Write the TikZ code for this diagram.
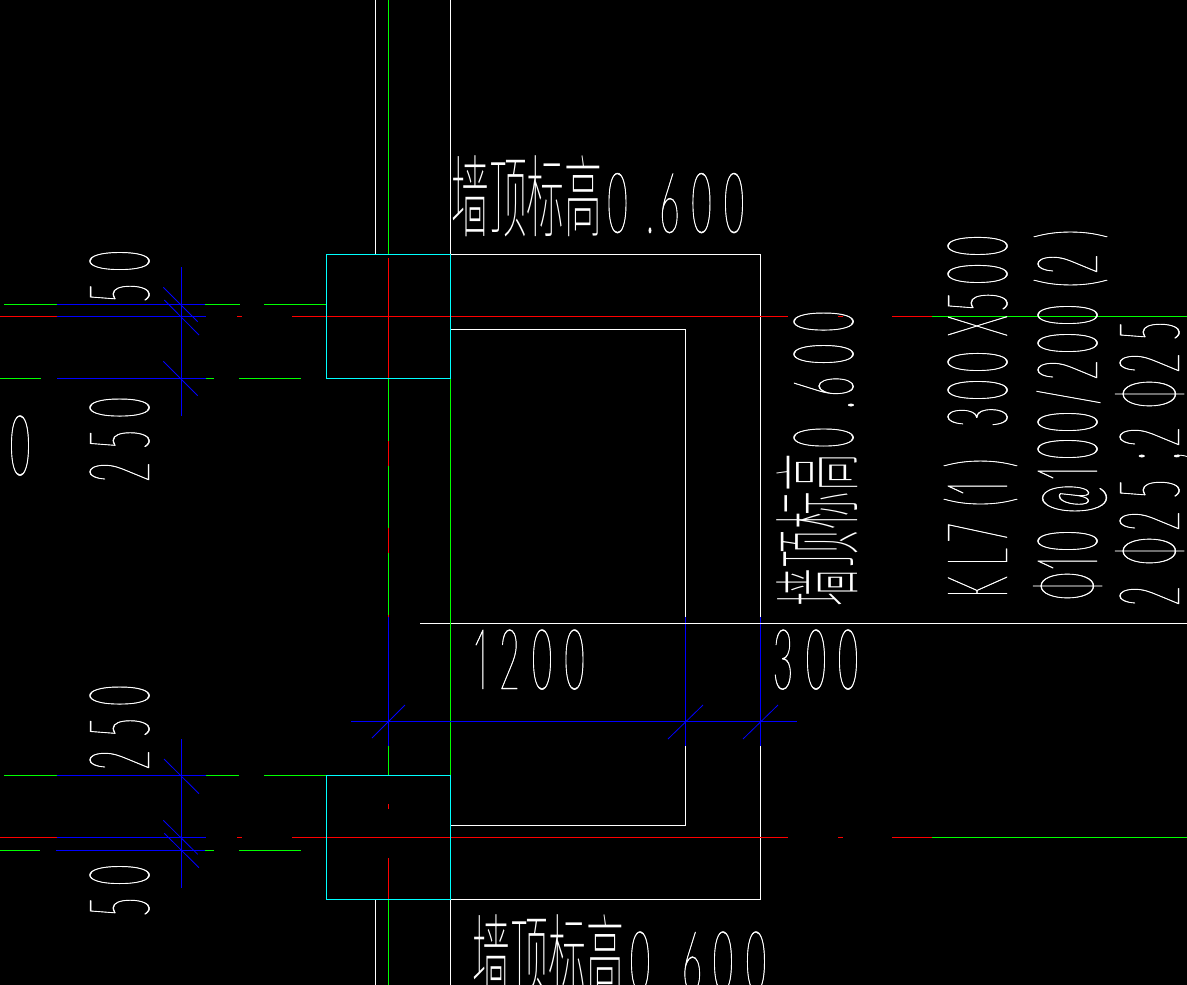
\documentclass[tikz,border=0pt]{standalone}
\usepackage{fontspec}
\newfontfamily\latofont[FakeStretch=0.42,FakeBold=0.55,Numbers=Proportional]{Lato Hairline}
\newfontfamily\cjkfont[FakeStretch=0.42]{Noto Sans CJK SC Thin}
\definecolor{cadcyan}{RGB}{0,255,255}
\definecolor{cadgreen}{RGB}{0,255,0}
\definecolor{cadred}{RGB}{255,0,0}
\definecolor{cadblue}{RGB}{0,0,255}
\tikzset{
  wht/.style={draw=white,line width=1pt},
  cya/.style={draw=cadcyan,line width=1pt},
  grn/.style={draw=cadgreen,line width=1pt},
  redl/.style={draw=cadred,line width=1pt},
  blu/.style={draw=cadblue,line width=1pt},
  thinl/.style={line width=0.8pt},
  cadh/.style={inner sep=0pt,outer sep=0pt,anchor=base west,text=white},
  cadv/.style={cadh,rotate=90}
}
\newcommand\G[2]{\rlap{\kern#1pt\makebox[0pt][c]{\fontsize{84}{84}\selectfont\latofont #2}}}
\newcommand\C[2]{\rlap{\kern#1pt\raisebox{2pt}{\makebox[0pt][c]{\fontsize{90}{90}\selectfont\cjkfont #2}}}}
\newcommand\Ln[2]{\makebox[#1pt][l]{#2}}
\begin{document}
\begin{tikzpicture}[x=1pt,y=-1pt]
\useasboundingbox (0,0) rectangle (1187,985);
\fill[black] (0,0) rectangle (1187,985);
\clip (0,0) rectangle (1187,985);
% axis x=388
\draw[wht] (375.5,0) -- (375.5,254.5);
\draw[wht] (450.5,0) -- (450.5,254.5);
\draw[grn] (388.5,0) -- (388.5,254.5);
\draw[wht] (375.5,899.5) -- (375.5,985);
\draw[wht] (450.5,899.5) -- (450.5,985);
\draw[grn] (388.5,899.5) -- (388.5,985);
\draw[redl] (388.5,258) -- (388.5,378.5);
\draw[grn] (388.5,378.5) -- (388.5,441);
\draw[redl] (388.5,441) -- (388.5,466);
\draw[grn] (388.5,466) -- (388.5,528);
\draw[redl] (388.5,528) -- (388.5,553);
\draw[grn] (388.5,553) -- (388.5,615);
\draw[redl] (388.5,615) -- (388.5,617);
\draw[blu] (388.5,617) -- (388.5,746);
\draw[grn] (388.5,746) -- (388.5,775.5);
\draw[redl] (388.5,804) -- (388.5,809);
\draw[redl] (388.5,858) -- (388.5,899.5);
% white room outlines
\draw[wht] (450.5,254.5) -- (760.5,254.5) -- (760.5,617);
\draw[blu] (760.5,617) -- (760.5,746);
\draw[wht] (760.5,746) -- (760.5,899.5) -- (450.5,899.5);
\draw[wht] (450.5,329.5) -- (685.5,329.5) -- (685.5,617);
\draw[blu] (685.5,617) -- (685.5,746);
\draw[wht] (685.5,746) -- (685.5,825.5) -- (450.5,825.5);
\draw[wht] (420,623.5) -- (1187,623.5);
% green wall line
\draw[grn] (450.5,378.5) -- (450.5,775.5);
% horizontal axes, upper
\draw[grn] (4,304.5) -- (57,304.5) (205,304.5) -- (240,304.5) (264,304.5) -- (326.5,304.5);
\draw[blu] (57,304.5) -- (205,304.5);
\draw[redl] (0,316.5) -- (57,316.5) (237,316.5) -- (242,316.5) (292,316.5) -- (788,316.5) (838,316.5) -- (843,316.5) (892,316.5) -- (932,316.5);
\draw[grn] (932,316.5) -- (1187,316.5);
\draw[blu] (57,316.5) -- (206,316.5);
\draw[grn] (0,378.5) -- (41,378.5) (206,378.5) -- (214,378.5) (239,378.5) -- (301,378.5);
\draw[blu] (57,378.5) -- (206,378.5);
\draw[blu] (181.5,267) -- (181.5,416);
\draw[blu,thinl] (163.3,287.3) -- (197.7,321.7) (164.3,300) -- (199,335) (163.3,361.3) -- (197.7,395.7);
% horizontal axes, lower
\draw[grn,thinl] (4,775.5) -- (57,775.5) (206,775.5) -- (239,775.5) (264,775.5) -- (326.5,775.5);
\draw[blu,thinl] (57,775.5) -- (206,775.5);
\draw[redl,thinl] (0,837.5) -- (57,837.5) (237,837.5) -- (242,837.5) (292,837.5) -- (788,837.5) (838,837.5) -- (843,837.5) (892,837.5) -- (932,837.5);
\draw[grn,thinl] (932,837.5) -- (1187,837.5);
\draw[blu,thinl] (57,837.5) -- (206,837.5);
\draw[grn] (0,850.5) -- (40,850.5) (205,850.5) -- (214,850.5) (239,850.5) -- (301,850.5);
\draw[blu] (56,850.5) -- (205,850.5);
\draw[blu] (181.5,739) -- (181.5,888);
\draw[blu,thinl] (164,759) -- (199,793.7) (163.3,820.3) -- (197.7,854.3) (164.3,833.3) -- (199,867.7);
% vertical dims
\draw[blu,thinl] (351,721.5) -- (797,721.5);
\draw[blu,thinl] (372,738) -- (405,705) (668,739) -- (703,705) (743,739) -- (778,705);
% cyan columns
\draw[cya] (326.5,254.5) rectangle (450.5,378.5);
\draw[cya] (326.5,775.5) rectangle (450.5,899.5);
% texts
\node[cadh] (t1) at (452,232.5) {\Ln{293}{\C{18.5}{墙}\C{56}{顶}\C{93.5}{标}\C{131}{高}\G{165.5}{0}\G{198}{.}\G{217.5}{6}\G{249.5}{0}\G{282}{0}}};
\node[cadh] (t2) at (472,991) {\Ln{293}{\C{19}{墙}\C{57}{顶}\C{95}{标}\C{133}{高}\G{168}{0}\G{200}{.}\G{220}{6}\G{251}{0}\G{284}{0}}};
\node[cadv] (t3) at (853,607) {\Ln{295}{\C{19}{墙}\C{57.5}{顶}\C{96}{标}\C{134.5}{高}\G{169.5}{0}\G{202}{.}\G{220.5}{6}\G{253}{0}\G{285.5}{0}}};
\node[cadv] (t4) at (1007,599) {\Ln{362}{\G{12}{K}\G{42}{L}\G{66}{7}\G{97}{(}\G{111}{1}\G{136}{)}\G{182}{3}\G{209}{0}\G{237}{0}\G{273}{X}\G{297}{5}\G{325}{0}\G{353}{0}}};
\node[cadv] (t5) at (1097,600) {\Ln{372}{\G{14}{Φ}\G{37}{1}\G{59}{0}\G{101}{@}\G{127}{1}\G{151}{0}\G{178}{0}\G{203}{/}\G{230}{2}\G{257}{0}\G{285}{0}\G{317}{(}\G{336}{2}\G{366}{)}}};
\node[cadv] (t6) at (1179,600) {\Ln{280}{\G{4}{2}\G{49}{Φ}\G{79}{2}\G{111}{5}\G{144}{;}\G{163}{2}\G{206}{Φ}\G{237}{2}\G{269}{5}}};
\node[cadh] (t7) at (470,689) {\Ln{114}{\G{11}{1}\G{39.5}{2}\G{72}{0}\G{104.5}{0}}};
\node[cadh] (t8) at (770,689) {\Ln{88}{\G{13}{3}\G{46}{0}\G{78}{0}}};
\node[cadv] (t9) at (149,917) {\Ln{51}{\G{10}{5}\G{42}{0}}};
\node[cadv] (t10) at (149,482) {\Ln{84}{\G{10}{2}\G{42.5}{5}\G{74.5}{0}}};
\node[cadv] (t11) at (149,770) {\Ln{84}{\G{10}{2}\G{42.5}{5}\G{74.5}{0}}};
\node[cadv] (t12) at (149,302) {\Ln{50}{\G{9}{5}\G{41}{0}}};
\node[cadh] (t13) at (10,475) {\Ln{20}{\G{10}{0}}};
\end{tikzpicture}
\end{document}
